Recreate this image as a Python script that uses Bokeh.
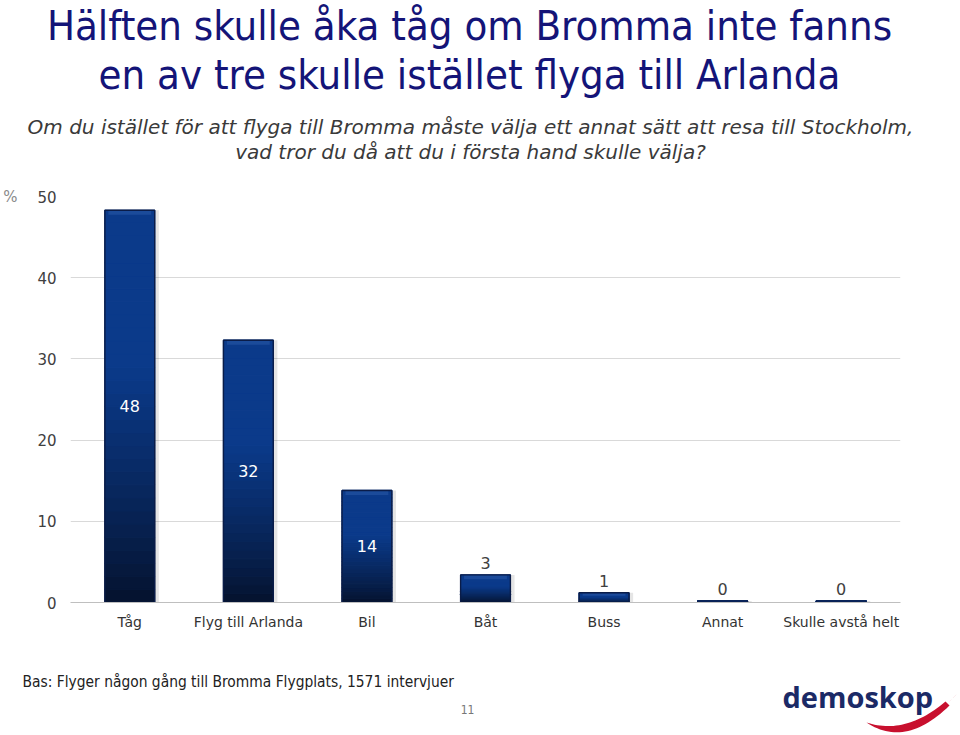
import numpy as np
from bokeh.plotting import figure
from bokeh.models import FactorRange, Label, FixedTicker, ColumnDataSource, LinearAxis, Range1d
from bokeh.layouts import column
from bokeh.transform import dodge
from bokeh.embed import file_html
from bokeh.resources import INLINE

# ---------------- data ----------------
categories = ["Tåg", "Flyg till Arlanda", "Bil", "Båt", "Buss", "Annat", "Skulle avstå helt"]
values = [48.3, 32.3, 13.8, 3.4, 1.2, 0.2, 0.2]
y_ticks = [0, 10, 20, 30, 40, 50]

title_lines = ["Hälften skulle åka tåg om Bromma inte fanns",
               "en av tre skulle istället flyga till Arlanda"]
subtitle_lines = ["Om du istället för att flyga till Bromma måste välja ett annat sätt att resa till Stockholm,",
                  "vad tror du då att du i första hand skulle välja?"]
unit_label = "%"
footer_text = "Bas: Flyger någon gång till Bromma Flygplats, 1571 intervjuer"
page_number = "11"
logo_text = "demoskop"

# ---------------- layout geometry (pixels) ----------------
W = 960
H_HEAD, H_MAIN, H_FOOT = 176, 469, 90
Y_MAIN = H_HEAD
Y_FOOT = H_HEAD + H_MAIN
BASE_K = 0.36   # label anchor -> alphabetic baseline correction (fraction of font size)


def blank(h, y0):
    f = figure(width=W, height=h, x_range=Range1d(0, W), y_range=Range1d(y0 + h, y0),
               output_backend="svg", toolbar_location=None, x_axis_type=None, y_axis_type=None,
               min_border=0, title=None, frame_align=False)
    f.outline_line_color = None
    f.xgrid.visible = False
    f.ygrid.visible = False
    return f


def text_at(fig, x, baseline, txt, size, **kw):
    fig.add_layout(Label(x=x, y=baseline - BASE_K * size, text=txt, text_baseline="alphabetic",
                         text_font_size=f"{size}px", **kw))


# ---------------- header ----------------
head = blank(H_HEAD, 0)
for txt, base in zip(title_lines, [39.5, 89]):
    text_at(head, 469, base, txt, 41.5, text_align="center",
            text_font="DejaVu Sans Condensed", text_color="#141478")
for txt, base in zip(subtitle_lines, [134, 159]):
    text_at(head, 470, base, txt, 20, text_align="center",
            text_font="DejaVu Sans", text_font_style="italic", text_color="#3a3a3a")

# ---------------- main chart ----------------
p = figure(x_range=FactorRange(*categories), y_range=(0, 50),
           width=W, height=H_MAIN, output_backend="svg", toolbar_location=None, title=None,
           min_border_left=68, min_border_right=W - 900, min_border_top=196 - Y_MAIN,
           min_border_bottom=Y_FOOT - 602, frame_align=False)
p.outline_line_color = None
p.xgrid.grid_line_color = None
p.ygrid.grid_line_color = "#d9d9d9"
p.ygrid.grid_line_width = 1
p.yaxis.ticker = FixedTicker(ticks=y_ticks)
p.yaxis.axis_line_color = None
p.yaxis.major_tick_line_color = None
p.yaxis.minor_tick_line_color = None
p.yaxis.major_tick_out = 0
p.yaxis.minor_tick_out = 0
p.yaxis.major_label_text_font = "DejaVu Sans"
p.yaxis.major_label_text_font_size = "15px"
p.yaxis.major_label_text_color = "#404040"
p.yaxis.major_label_standoff = 14
p.xaxis.axis_line_color = "#bfbfbf"
p.xaxis.major_tick_line_color = None
p.xaxis.minor_tick_line_color = None
p.xaxis.major_tick_out = 0
p.xaxis.minor_tick_out = 0
p.xaxis.major_label_text_font = "DejaVu Sans"
p.xaxis.major_label_text_font_size = "14px"
p.xaxis.major_label_text_color = "#333333"
p.xaxis.major_label_standoff = 11

# "%" unit shown as an extra axis label at the top tick
unit_axis = LinearAxis(ticker=FixedTicker(ticks=[y_ticks[-1]]),
                       major_label_overrides={y_ticks[-1]: unit_label},
                       axis_line_color=None, major_tick_line_color=None, minor_tick_line_color=None,
                       major_tick_out=0, minor_tick_out=0, major_label_standoff=17,
                       major_label_text_font="DejaVu Sans", major_label_text_font_size="15px",
                       major_label_text_color="#8a8a8a")
p.add_layout(unit_axis, "left")

BW = 0.42
vals = np.array(values)

# shadow
p.vbar(x=dodge("x", 0.035, range=p.x_range), top="top", width=BW, bottom=0,
       source=ColumnDataSource(dict(x=categories, top=values)),
       fill_color="#000000", fill_alpha=0.10, line_color=None)

# gradient bars (segments derived from values)
c_top = np.array([11, 58, 138])
c_bot = np.array([5, 18, 44])
N = 30
gx, gb, gt, gc = [], [], [], []
for cat, v in zip(categories, values):
    for k in range(N):
        t = (k + 0.5) / N
        f = min(1.0, t / 0.6) ** 0.85
        c = (c_bot + (c_top - c_bot) * f).astype(int)
        gx.append(cat)
        gb.append(v * k / N)
        gt.append(v * (k + 1) / N)
        gc.append("#%02x%02x%02x" % tuple(c))
gsrc = ColumnDataSource(dict(x=gx, bottom=gb, top=gt, color=gc))
p.vbar(x="x", bottom="bottom", top="top", width=BW, source=gsrc,
       fill_color="color", line_color="color", line_width=1.2)

# top highlight (bevel)
hb = np.minimum(0.55, vals * 0.3)
p.vbar(x=categories, bottom=list(vals - hb), top=list(vals - 0.05), width=BW * 0.86,
       fill_color="#2a5aa8", fill_alpha=0.55, line_color=None)

# outline
p.vbar(x=categories, top=values, bottom=0, width=BW, fill_color=None,
       line_color="#0a1c48", line_width=1.4)

# data labels
labels = [str(int(round(v))) for v in values]
inside = [v >= 10 for v in values]
src_in = ColumnDataSource(dict(x=[c for c, i in zip(categories, inside) if i],
                               y=[v / 2 for v, i in zip(values, inside) if i],
                               t=[l for l, i in zip(labels, inside) if i]))
src_out = ColumnDataSource(dict(x=[c for c, i in zip(categories, inside) if not i],
                                y=[v for v, i in zip(values, inside) if not i],
                                t=[l for l, i in zip(labels, inside) if not i]))
p.text(x="x", y="y", text="t", source=src_in, text_align="center", text_baseline="middle",
       text_color="white", text_font={"value": "DejaVu Sans"}, text_font_size="16px")
p.text(x="x", y="y", text="t", source=src_out, text_align="center", text_baseline="bottom",
       y_offset=-6, text_color="#404040", text_font={"value": "DejaVu Sans"}, text_font_size="16px")

# ---------------- footer ----------------
foot = blank(H_FOOT, Y_FOOT)
text_at(foot, 22, 687, footer_text, 15.4, text_align="left",
        text_font="DejaVu Sans Condensed", text_color="#222222")
text_at(foot, 467, 713, page_number, 12, text_align="center",
        text_font="DejaVu Sans Condensed", text_color="#777777")
text_at(foot, 782, 706, logo_text, 29, text_align="left",
        text_font="Open Sans", text_font_style="bold", text_color="#1b2a66")

# logo swoosh (decoration)
tt = np.linspace(0, 1, 30)


def bez(p0, p1, p2):
    p0, p1, p2 = map(np.array, (p0, p1, p2))
    return ((1 - tt)[:, None] ** 2 * p0 + 2 * ((1 - tt) * tt)[:, None] * p1 + (tt ** 2)[:, None] * p2)


outer = bez((866, 722), (905, 748), (949, 705))
inner = bez((866, 722), (905, 735), (945, 701))
poly = np.vstack([outer, inner[::-1]])
foot.patch(list(poly[:, 0]), list(poly[:, 1]), fill_color="#c8102e", line_color=None)
d = np.array([1.0, -1.0]) / np.sqrt(2)
nrm = np.array([d[1], d[0]])
end = np.array([947, 703])
tri = np.array([end + d * 14, end + nrm * 8, end - nrm * 8])
foot.patch(list(tri[:, 0]), list(tri[:, 1]), fill_color="#c8102e", line_color=None)

layout = column(head, p, foot, spacing=0)
open("out.html", "w").write(file_html(layout, INLINE))
